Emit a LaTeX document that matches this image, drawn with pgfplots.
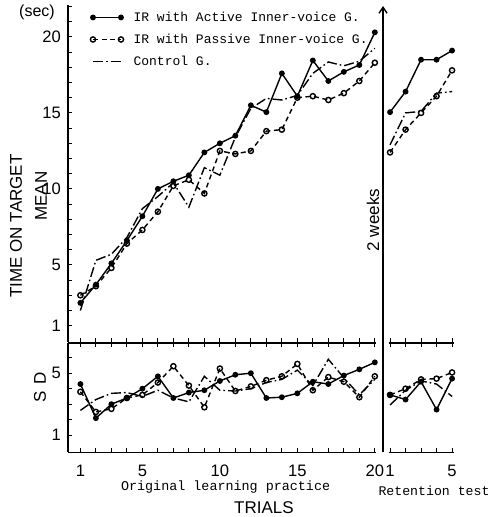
\documentclass[border=0pt]{standalone}
\usepackage{fontspec}
\setmainfont{Liberation Sans}
\newfontfamily\monofont{Liberation Mono}
\usepackage{pgfplots}
\pgfplotsset{compat=1.18}
\usetikzlibrary{arrows.meta}

% 1 px of the scan = 0.5pt
\pgfplotsset{
  trialaxis/.style={
    scale only axis,
    anchor=north west,
    tick align=inside,
    major tick length=2.2pt,
    minor tick length=2.2pt,
    axis line style={-, line width=0.6pt},
    every tick/.style={line width=0.5pt, black},
    tick label style={font=\fontsize{8.3}{9}\selectfont},
    /pgf/number format/assume math mode=true,
    clip=false,
  },
  active/.style={black, line width=0.7pt, solid, mark=*, mark size=1.1pt},
  passive/.style={black, line width=0.7pt, dash pattern=on 2.5pt off 1.8pt, mark=o, mark size=1.3pt, mark options={solid, fill=white}},
  control/.style={black, line width=0.7pt, dash pattern=on 5pt off 1.5pt on 0.8pt off 1.5pt},
}

\begin{document}
\begin{tikzpicture}
\useasboundingbox (0,0) rectangle (244.5pt,-258.5pt);

% ---- mean, original learning
\begin{axis}[trialaxis, name=mean, at={(34pt,-2.5pt)},
  width=153.8pt, height=168.7pt,
  xmin=0.2, xmax=20.05, ymin=-0.1, ymax=22.1,
  axis lines*=left,
  xtick={1,...,20}, xticklabels={},
  ytick={1,5,10,15,20},
  minor ytick={2,3,4,6,7,8,9,11,12,13,14,16,17,18,19,21,22},
  legend style={at={(0.0715,0.982)}, anchor=north west, draw=none, fill=none,
    font=\monofont\fontsize{6.5}{7}\selectfont, row sep=5pt, column sep=5pt, inner sep=0pt,
    nodes={inner sep=0pt, text height=5pt, text depth=1pt}},
  legend cell align=left,
  legend image code/.code={\draw[mark repeat=1,#1] plot coordinates {(0pt,0pt) (14pt,0pt)};},
]
\addplot[active] coordinates {(1,2.5) (2,3.7) (3,5.1) (4,6.6) (5,8.2) (6,10.0) (7,10.5) (8,10.9) (9,12.4) (10,13.0)
  (11,13.5) (12,15.5) (13,15.05) (14,17.6) (15,16.1) (16,18.45) (17,17.1) (18,17.7) (19,18.15) (20,20.3)};
\addplot[passive] coordinates {(1,3.0) (2,3.6) (3,4.8) (4,6.4) (5,7.3) (6,8.5) (7,10.2) (8,10.6) (9,9.7) (10,12.5)
  (11,12.3) (12,12.5) (13,13.8) (14,13.9) (15,16.0) (16,16.1) (17,15.85) (18,16.3) (19,17.1) (20,18.3)};
\addplot[control] coordinates {(1,2.0) (2,5.3) (3,5.7) (4,6.8) (5,8.7) (6,9.5) (7,10.4) (8,8.8) (9,11.4) (10,10.9)
  (11,13.4) (12,15.3) (13,15.95) (14,15.85) (15,16.15) (16,17.6) (17,18.35) (18,18.1) (19,18.4) (20,19.25)};
\legend{IR with Active Inner-voice G., IR with Passive Inner-voice G., Control G.}
\end{axis}

% ---- mean, retention
\begin{axis}[trialaxis, name=meanr, at={(194.25pt,-2.5pt)},
  width=32.55pt, height=168.7pt,
  xmin=0.9, xmax=5.1, ymin=-0.1, ymax=22.1,
  axis x line*=bottom, axis y line=none,
  xtick={1,...,5}, xticklabels={}, ytick=\empty,
]
\addplot[active] coordinates {(1,15.05) (2,16.4) (3,18.5) (4,18.5) (5,19.1)};
\addplot[passive] coordinates {(1,12.4) (2,13.9) (3,15.0) (4,16.1) (5,17.8)};
\addplot[control] coordinates {(1,12.9) (2,15.0) (3,15.1) (4,16.3) (5,16.4)};
\end{axis}

% ---- SD, original learning
\begin{axis}[trialaxis, name=sd, at={(34pt,-171.5pt)},
  width=153.8pt, height=54.6pt,
  xmin=0.2, xmax=20.05, ymin=-0.1, ymax=6.95,
  axis x line*=box, axis y line*=left,
  xtick={1,...,20}, xticklabels={1,,,,5,,,,,10,,,,,15,,,,,20},
  xticklabel style={yshift=-3pt},
  ytick={1,5}, minor ytick={2,3,4,6},
]
\addplot[active] coordinates {(1,4.3) (2,2.1) (3,3.0) (4,3.4) (5,4.0) (6,4.8) (7,3.4) (8,3.75) (9,3.9) (10,4.5)
  (11,4.9) (12,5.0) (13,3.4) (14,3.45) (15,3.7) (16,4.45) (17,4.3) (18,4.85) (19,5.25) (20,5.7)};
\addplot[passive] coordinates {(1,3.8) (2,2.5) (3,2.7) (4,3.4) (5,3.6) (6,4.4) (7,5.45) (8,4.2) (9,2.8) (10,5.3)
  (11,3.85) (12,4.15) (13,4.55) (14,4.8) (15,5.6) (16,3.9) (17,4.75) (18,4.45) (19,3.45) (20,4.8)};
\addplot[control] coordinates {(1,2.6) (2,3.3) (3,3.7) (4,3.75) (5,3.5) (6,3.9) (7,3.4) (8,3.15) (9,4.8) (10,3.9)
  (11,3.85) (12,4.0) (13,4.4) (14,4.6) (15,5.2) (16,4.2) (17,5.9) (18,4.7) (19,3.6) (20,4.6)};
\end{axis}

% ---- SD, retention
\begin{axis}[trialaxis, name=sdr, at={(194.25pt,-171.5pt)},
  width=32.55pt, height=54.6pt,
  xmin=0.9, xmax=5.1, ymin=-0.1, ymax=6.95,
  axis x line*=box, axis y line=none,
  xtick={1,...,5}, xticklabels={1,,,,5}, ytick=\empty,
  xticklabel style={yshift=-3pt},
]
\addplot[active] coordinates {(1,3.6) (2,3.3) (3,4.45) (4,2.65) (5,4.65)};
\addplot[passive] coordinates {(1,3.6) (2,4.0) (3,4.6) (4,4.65) (5,5.05)};
\addplot[control] coordinates {(1,2.95) (2,3.9) (3,4.5) (4,4.3) (5,3.5)};
\end{axis}

% separation line between practice and retention
\draw[line width=0.7pt, -{Straight Barb[length=3pt,width=4pt]}] (191.5pt,-226pt) -- (191.5pt,-3pt);
\node[rotate=90, font=\fontsize{8.5}{10}\selectfont] at (186.5pt,-110pt) {2 weeks};

% labels
\node[font=\fontsize{8}{9}\selectfont] at (18.5pt,-6pt) {(sec)};
\node[rotate=90, font=\fontsize{8.5}{10}\selectfont] at (8pt,-113pt) {TIME ON TARGET};
\node[rotate=90, font=\fontsize{8.5}{10}\selectfont] at (20.5pt,-98pt) {MEAN};
\node[rotate=90, font=\fontsize{8.5}{10}\selectfont] at (20pt,-193.75pt) {S\hspace{3pt}D};
\node[font=\monofont\fontsize{6.7}{7}\selectfont] at (112.8pt,-243.5pt) {Original learning practice};
\node[font=\monofont\fontsize{6.6}{7}\selectfont] at (217pt,-245.5pt) {Retention test};
\node[font=\fontsize{8.5}{10}\selectfont] at (132pt,-254pt) {TRIALS};
\end{tikzpicture}
\end{document}
